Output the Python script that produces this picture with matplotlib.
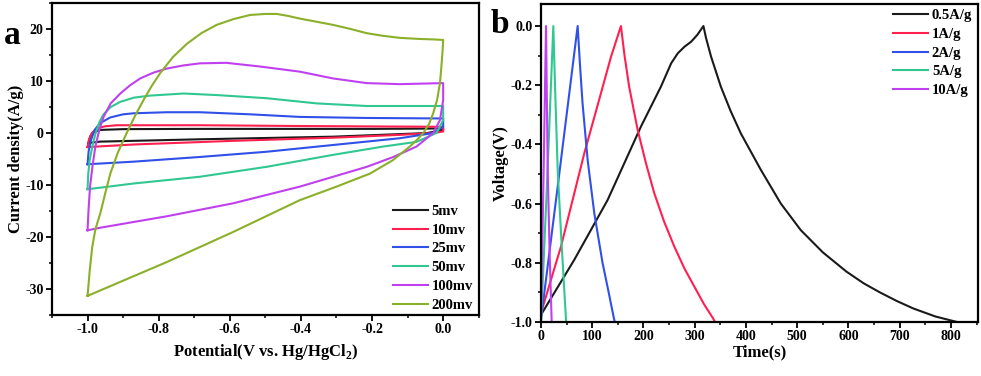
import matplotlib
matplotlib.use('Agg')
import matplotlib.pyplot as plt
from matplotlib.ticker import MultipleLocator

plt.rcParams['font.family'] = ['Liberation Serif', 'DejaVu Serif']
plt.rcParams['font.weight'] = 'bold'
plt.rcParams['mathtext.fontset'] = 'custom'
plt.rcParams['mathtext.rm'] = 'Liberation Serif:bold'
plt.rcParams['mathtext.bf'] = 'Liberation Serif:bold'

# ---- panel a: CV loops, (potential, current) traced round each loop ----
cv_labels = ['5mv', '10mv', '25mv', '50mv', '100mv', '200mv']
cv_colors = ['#1a1a1a', '#ff2050', '#3050e8', '#30c890', '#c040f0', '#8ab02a']

cv_5_x = [-0.997, -0.992, -0.985, -0.965, -0.9, -0.7, -0.4, -0.2, -0.05, 0.0, 0.0, -0.045, -0.31, -0.684, -0.965, -0.997]
cv_5_y = [-1.9, -0.6, 0.1, 0.6, 0.75, 0.8, 0.8, 0.8, 0.85, 0.9, 0.6, 0.0, -0.7, -1.2, -1.65, -1.9]

cv_10_x = [-1.0, -0.996, -0.988, -0.974, -0.95, -0.918, -0.684, -0.403, 0.0, 0.0, -0.028, -0.122, -0.31,
           -0.59, -0.87, -1.0]
cv_10_y = [-2.7, -1.2, 0.0, 0.9, 1.3, 1.5, 1.5, 1.35, 1.2, 0.3, 0.0, -0.35, -0.9, -1.5, -2.2, -2.7]

cv_25_x = [-1.0, -0.997, -0.99, -0.98, -0.965, -0.936, -0.9, -0.87, -0.777, -0.684, -0.543, -0.403, -0.215,
           0.0, 0.0, -0.028, -0.122, -0.31, -0.497, -0.684, -0.87, -1.0]
cv_25_y = [-6.0, -3.5, -1.3, 0.6, 1.9, 3.0, 3.6, 3.8, 4.0, 4.0, 3.6, 3.1, 2.9, 2.8, 1.2, 0.0,
           -1.0, -2.3, -3.6, -4.6, -5.5, -6.0]

cv_50_x = [-1.0, -0.998, -0.994, -0.986, -0.978, -0.966, -0.955, -0.935, -0.908, -0.87, -0.824, -0.73, -0.637,
           -0.497, -0.356, -0.215, 0.0, 0.0, -0.019, -0.075, -0.169, -0.31, -0.497, -0.684, -0.87, -1.0]
cv_50_y = [-10.8, -7.8, -5.2, -2.4, -0.2, 2.2, 3.6, 5.0, 6.0, 6.8, 7.2, 7.6, 7.3, 6.7, 5.7, 5.2, 5.2, 2.5,
           0.0, -1.7, -2.6, -4.2, -6.5, -8.4, -9.7, -10.8]

cv_100_x = [-1.0, -0.997, -0.993, -0.986, -0.978, -0.967, -0.955, -0.935, -0.908, -0.88, -0.852, -0.815,
            -0.777, -0.73, -0.684, -0.61, -0.516, -0.403, -0.31, -0.215, -0.122, 0.0, 0.0, -0.009, -0.028,
            -0.075, -0.14, -0.215, -0.403, -0.59, -0.777, -0.964, -1.0]
cv_100_y = [-18.7, -14.5, -10.3, -6.3, -2.6, 0.6, 3.1, 5.7, 7.6, 9.2, 10.5, 11.6, 12.4, 13.0, 13.4, 13.5,
            12.8, 11.8, 10.5, 9.6, 9.4, 9.6, 6.3, 2.5, 0.0, -2.6, -4.6, -6.5, -10.3, -13.5, -16.0, -18.2, -18.7]

cv_200_x = [-1.0, -0.994, -0.987, -0.978, -0.964, -0.95, -0.936, -0.915, -0.89, -0.865, -0.843, -0.82,
            -0.796, -0.76, -0.72, -0.68, -0.637, -0.59, -0.543, -0.5, -0.468, -0.435, -0.403, -0.356,
            -0.31, -0.26, -0.215, -0.17, -0.122, -0.07, -0.028, 0.0, -0.002, -0.005, -0.009, -0.017,
            -0.028, -0.04, -0.056, -0.075, -0.094, -0.141, -0.206, -0.3, -0.403, -0.59, -0.777, -1.0]
cv_200_y = [-31.3, -26.5, -22.0, -18.5, -15.4, -11.5, -7.8, -3.8, 0.0, 3.5, 6.3, 9.0,
            11.5, 14.6, 17.2, 19.2, 20.8, 21.9, 22.7, 22.9, 22.9, 22.5, 22.0, 21.4,
            20.8, 20.0, 19.2, 18.7, 18.3, 18.1, 18.0, 17.9, 15.5, 12.8, 9.6, 6.4,
            3.8, 1.7, 0.0, -1.4, -2.6, -5.2, -7.8, -10.3, -12.9, -19.0, -24.8, -31.3]

cv_x = [cv_5_x, cv_10_x, cv_25_x, cv_50_x, cv_100_x, cv_200_x]
cv_y = [cv_5_y, cv_10_y, cv_25_y, cv_50_y, cv_100_y, cv_200_y]

# ---- panel b: charge/discharge curves ----
gcd_labels = ['0.5A/g', '1A/g', '2A/g', '5A/g', '10A/g']
gcd_colors = ['#1a1a1a', '#ff2050', '#3050e8', '#30c890', '#c040f0']

gcd_05_t = [0, 65, 130, 195, 234, 254, 267, 280, 293, 305, 317, 322, 332, 351, 370, 390, 429, 468, 507,
            550, 596, 630, 661, 695, 727, 770, 811]
gcd_05_v = [-0.976, -0.79, -0.588, -0.34, -0.205, -0.126, -0.092, -0.07, -0.053, -0.03, 0.0, -0.04, -0.104,
            -0.205, -0.287, -0.363, -0.486, -0.6, -0.69, -0.765, -0.83, -0.87, -0.9, -0.93, -0.955,
            -0.982, -1.0]

gcd_1_t = [0, 39, 84.5, 117, 136.6, 156, 163, 172, 188.6, 205, 221, 240, 260, 280, 299, 318, 335, 339.5]
gcd_1_v = [-0.97, -0.745, -0.43, -0.227, -0.104, 0.0, -0.1, -0.205, -0.351, -0.465, -0.565, -0.66, -0.745,
           -0.82, -0.88, -0.94, -0.986, -1.0]

gcd_2_t = [0, 32.5, 71.5, 76, 81, 91, 104, 120, 132, 142, 144]
gcd_2_v = [-0.99, -0.543, 0.0, -0.13, -0.26, -0.453, -0.633, -0.80, -0.9, -0.986, -1.0]

gcd_5_t = [0, 12, 24, 28, 32.5, 39, 49]
gcd_5_v = [-1.0, -0.52, 0.0, -0.24, -0.486, -0.70, -1.0]

gcd_10_t = [0, 5, 9.75, 13, 17, 20.8]
gcd_10_v = [-1.0, -0.5, 0.0, -0.486, -0.78, -1.0]

gcd_t = [gcd_05_t, gcd_1_t, gcd_2_t, gcd_5_t, gcd_10_t]
gcd_v = [gcd_05_v, gcd_1_v, gcd_2_v, gcd_5_v, gcd_10_v]

fig = plt.figure(figsize=(9.81, 3.76), dpi=100)
axA = fig.add_axes([0.053, 0.162, 0.435, 0.830])
axB = fig.add_axes([0.5515, 0.144, 0.4455, 0.845])


def styleAxis(ax):
    for sp in ax.spines.values():
        sp.set_linewidth(1.6)
    ax.tick_params(which='major', direction='out', length=4, width=1.3, labelsize=10, pad=2)
    ax.tick_params(which='minor', direction='out', length=2.5, width=1.1)
    for lab in ax.get_xticklabels() + ax.get_yticklabels():
        lab.set_fontweight('bold')


for i in range(len(cv_labels)):
    axA.plot(cv_x[i], cv_y[i], color=cv_colors[i], lw=1.5, label=cv_labels[i])
axA.set_xlim(-1.1, 0.1)
axA.set_ylim(-35, 25)
axA.xaxis.set_minor_locator(MultipleLocator(0.1))
axA.yaxis.set_minor_locator(MultipleLocator(5))
axA.set_xticks([-1.0, -0.8, -0.6, -0.4, -0.2, 0.0])
axA.set_xticklabels(['-1.0', '-0.8', '-0.6', '-0.4', '-0.2', '0.0'])
axA.set_yticks([-30, -20, -10, 0, 10, 20])
axA.set_yticklabels(['-30', '-20', '-10', '0', '10', '20'])
styleAxis(axA)
axA.set_xlabel('Potential(V vs. Hg/HgCl$_\\mathbf{2}$)', fontsize=12, fontweight='bold', labelpad=4)
axA.set_ylabel('Current density(A/g)', fontsize=12, fontweight='bold', labelpad=1)
axA.legend(loc='lower right', frameon=False, prop={'weight': 'bold', 'size': 10.5},
           handlelength=2.4, handletextpad=0.25, labelspacing=0.38, borderaxespad=0.15,
           bbox_to_anchor=(1.005, -0.015))
fig.text(0.004, 0.905, 'a', fontsize=24, fontweight='bold', va='center')

for i in range(len(gcd_labels)):
    axB.plot(gcd_t[i], gcd_v[i], color=gcd_colors[i], lw=1.5, label=gcd_labels[i])
axB.set_xlim(0, 853)
axB.set_ylim(-1.0, 0.074)
axB.xaxis.set_minor_locator(MultipleLocator(50))
axB.yaxis.set_minor_locator(MultipleLocator(0.1))
axB.set_xticks([0, 100, 200, 300, 400, 500, 600, 700, 800])
axB.set_yticks([-1.0, -0.8, -0.6, -0.4, -0.2, 0.0])
axB.set_yticklabels(['-1.0', '-0.8', '-0.6', '-0.4', '-0.2', '0.0'])
styleAxis(axB)
axB.set_xlabel('Time(s)', fontsize=12, fontweight='bold', labelpad=1)
axB.set_ylabel('Voltage(V)', fontsize=12, fontweight='bold', labelpad=1)
axB.legend(loc='upper right', frameon=False, prop={'weight': 'bold', 'size': 10.5},
           handlelength=2.4, handletextpad=0.25, labelspacing=0.38, borderaxespad=0.15,
           bbox_to_anchor=(1.005, 1.01))
fig.text(0.5, 0.935, 'b', fontsize=24, fontweight='bold', va='center')

fig.savefig('out.png', dpi=100)
